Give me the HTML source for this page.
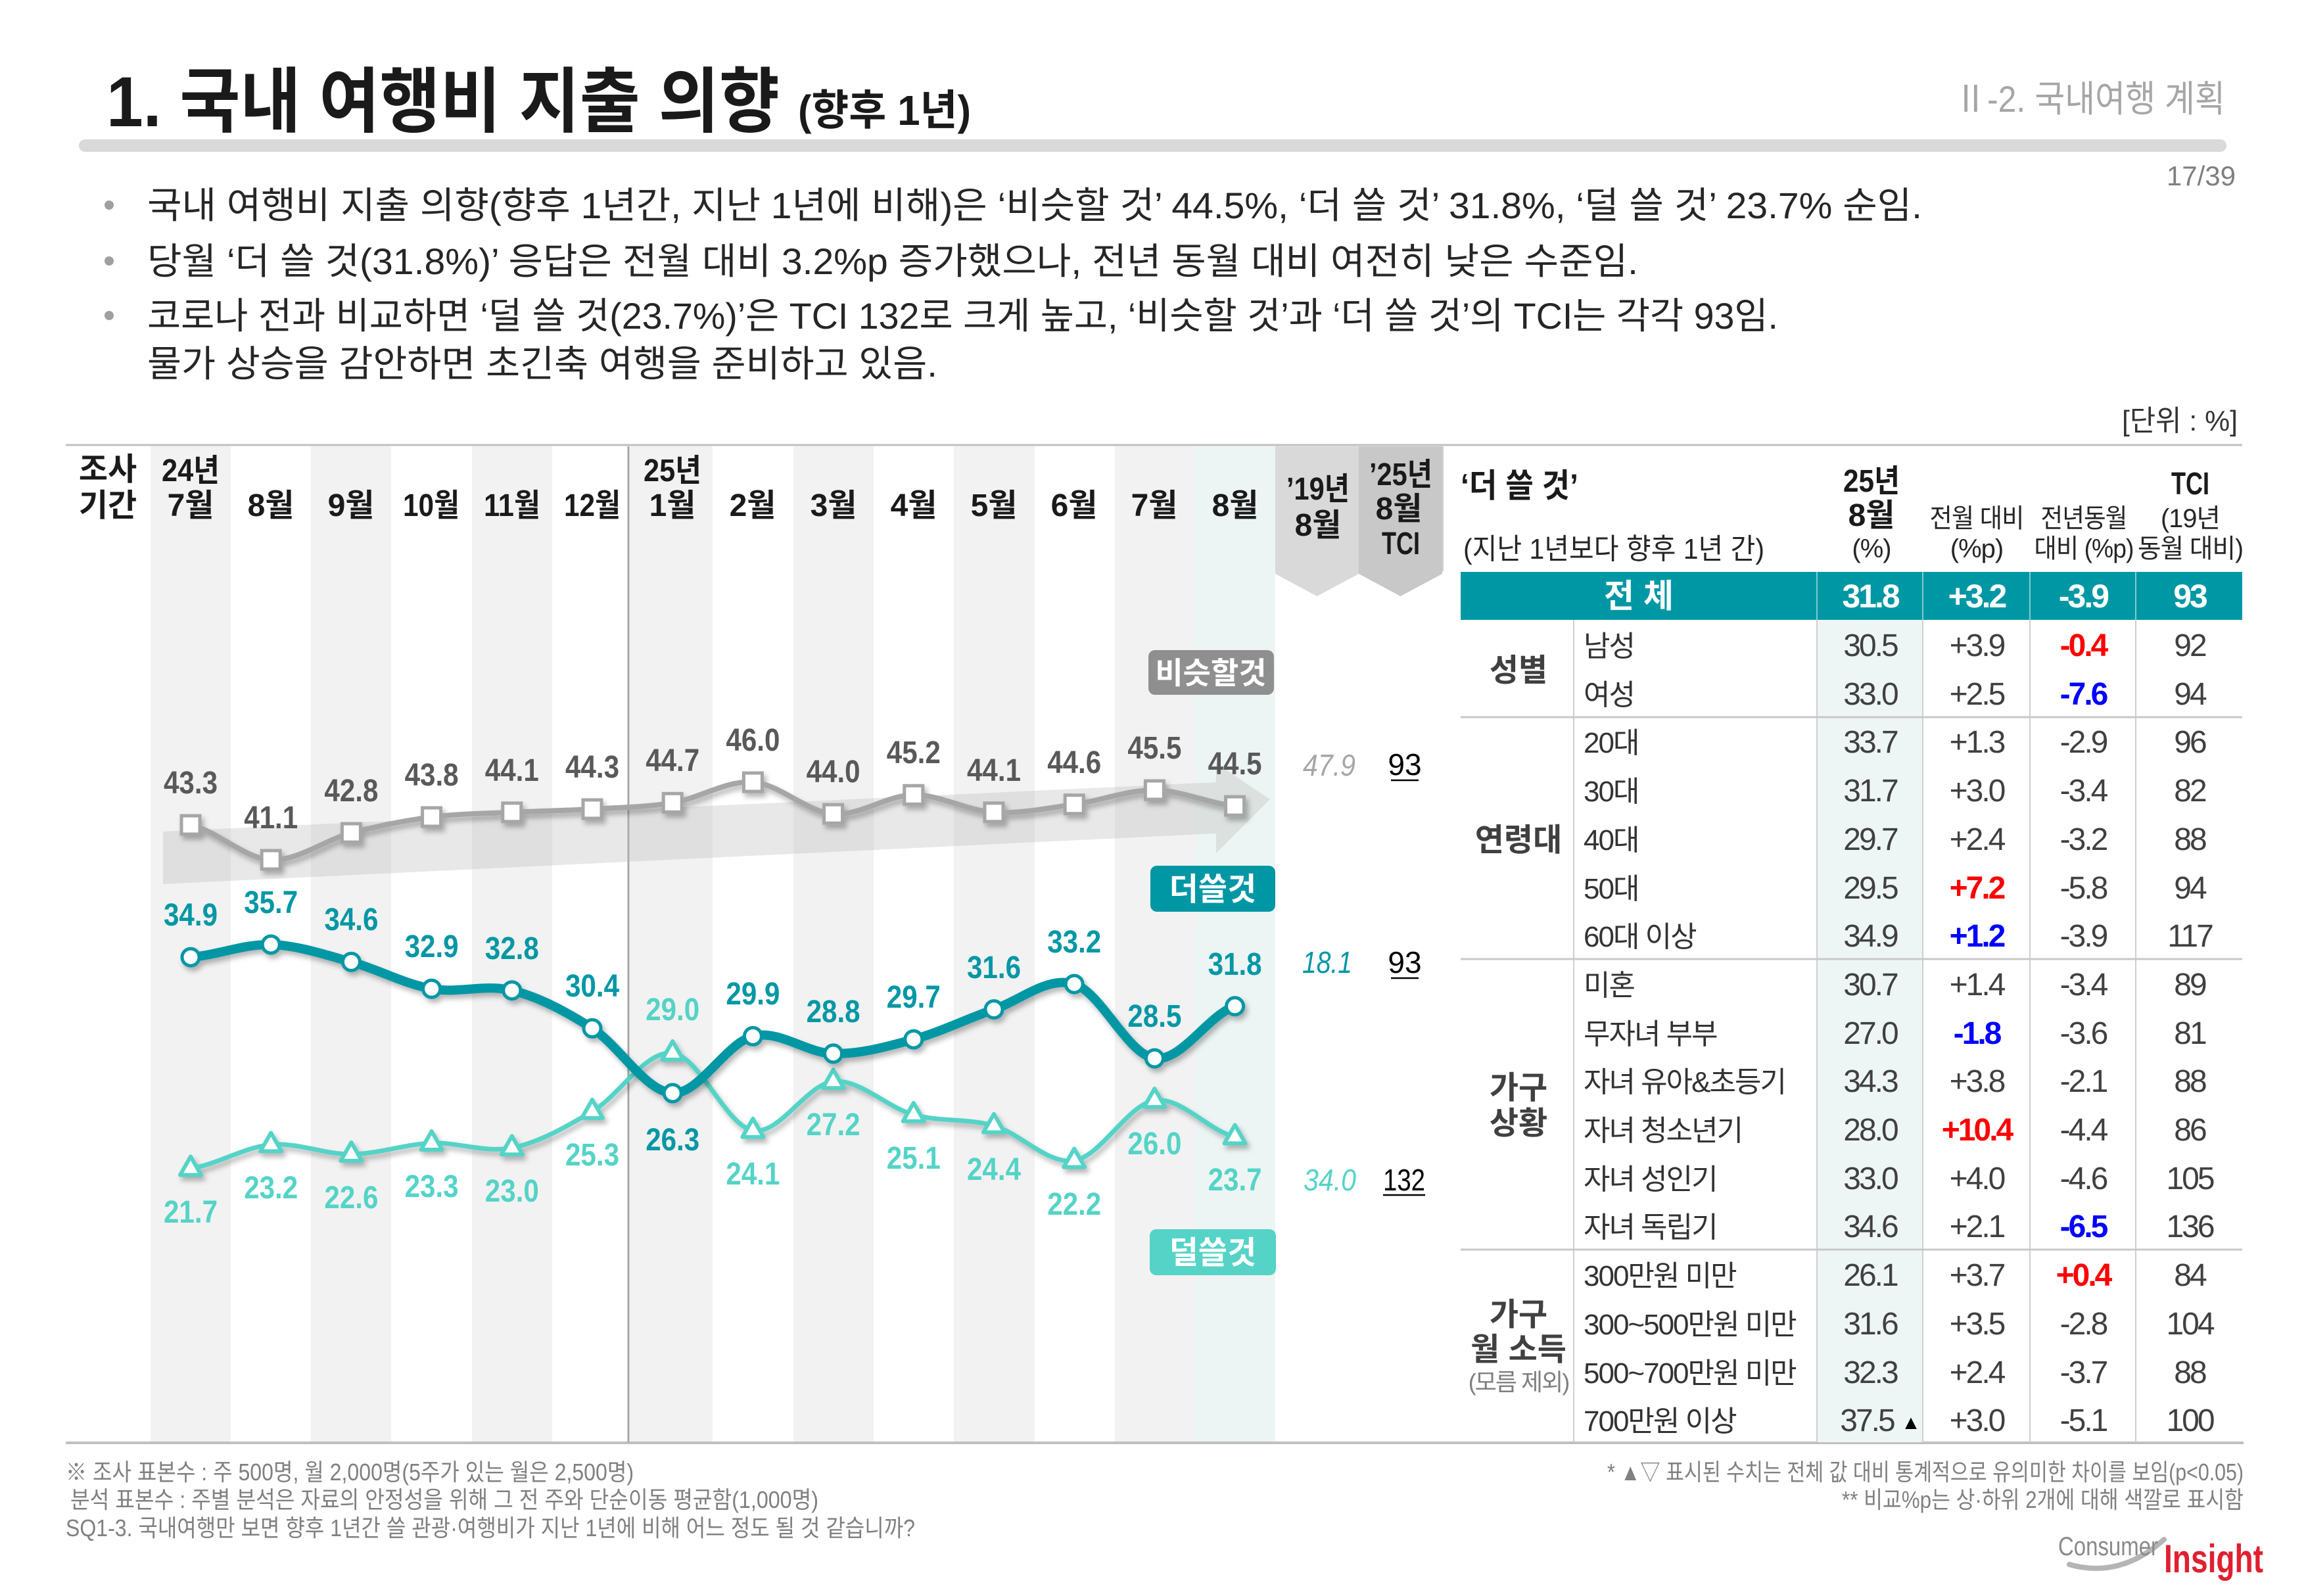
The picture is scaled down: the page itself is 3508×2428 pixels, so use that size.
<!DOCTYPE html>
<html lang="ko">
<head>
<meta charset="utf-8">
<style>
  html,body{margin:0;padding:0;background:#fff;}
  body{width:3508px;height:2428px;overflow:hidden;}
  svg{display:block;}
  text{font-family:"Liberation Sans","Noto Sans CJK KR",sans-serif;}
  .b{font-weight:bold;}
  .hd{font-size:48px;font-weight:bold;fill:#1a1a1a;text-anchor:middle;}
  .gl{font-size:48px;font-weight:bold;fill:#595959;text-anchor:middle;}
  .tl{font-size:48px;font-weight:bold;fill:#0097a5;text-anchor:middle;}
  .ll{font-size:48px;font-weight:bold;fill:#55d3c7;text-anchor:middle;}
  .tv{font-size:48px;fill:#404040;text-anchor:middle;letter-spacing:-3px;}
  .tr{font-size:48px;fill:#ff0000;font-weight:bold;text-anchor:middle;letter-spacing:-3px;}
  .tb{font-size:48px;fill:#0000ff;font-weight:bold;text-anchor:middle;letter-spacing:-3px;}
  .sl{font-size:44px;fill:#333;letter-spacing:-2px;}
  .gp{font-size:48px;font-weight:bold;fill:#404040;text-anchor:middle;}
  .th{font-size:40px;fill:#262626;text-anchor:middle;letter-spacing:-1px;}
  .ft{font-size:36px;fill:#808080;}
</style>
</head>
<body>
<svg width="3508" height="2428" viewBox="0 0 3508 2428" xmlns="http://www.w3.org/2000/svg">
  <defs>
    <filter id="sh" x="-5%" y="-20%" width="110%" height="140%">
      <feDropShadow dx="4" dy="6" stdDeviation="4" flood-color="#000" flood-opacity="0.28"/>
    </filter>
  </defs>

  <!-- Title -->
  <text x="162" y="192" font-size="108" font-weight="bold" fill="#1a1a1a" textLength="1024" lengthAdjust="spacingAndGlyphs">1. 국내 여행비 지출 의향</text>
  <text x="1214" y="190" font-size="64" font-weight="bold" fill="#1a1a1a" textLength="263" lengthAdjust="spacingAndGlyphs">(향후 1년)</text>
  <text x="2973" y="170" font-size="56" fill="#a6a6a6" textLength="412" lengthAdjust="spacingAndGlyphs">Ⅱ-2. 국내여행 계획</text>
  <rect x="120" y="212" width="3267" height="19" rx="9.5" fill="#d9d9d9"/>
  <text x="3401" y="282" font-size="42" fill="#7f7f7f" text-anchor="end">17/39</text>

  <!-- Bullets -->
  <circle cx="166" cy="312" r="7" fill="#a0a0a0"/>
  <circle cx="166" cy="397" r="7" fill="#a0a0a0"/>
  <circle cx="166" cy="480" r="7" fill="#a0a0a0"/>
  <text x="224" y="332" font-size="56" fill="#262626" textLength="2700" lengthAdjust="spacingAndGlyphs">국내 여행비 지출 의향(향후 1년간, 지난 1년에 비해)은 ‘비슷할 것’ 44.5%, ‘더 쓸 것’ 31.8%, ‘덜 쓸 것’ 23.7% 순임.</text>
  <text x="224" y="417" font-size="56" fill="#262626" textLength="2268" lengthAdjust="spacingAndGlyphs">당월 ‘더 쓸 것(31.8%)’ 응답은 전월 대비 3.2%p 증가했으나, 전년 동월 대비 여전히 낮은 수준임.</text>
  <text x="224" y="500" font-size="56" fill="#262626" textLength="2481" lengthAdjust="spacingAndGlyphs">코로나 전과 비교하면 ‘덜 쓸 것(23.7%)’은 TCI 132로 크게 높고, ‘비슷할 것’과 ‘더 쓸 것’의 TCI는 각각 93임.</text>
  <text x="224" y="573" font-size="56" fill="#262626" textLength="1202" lengthAdjust="spacingAndGlyphs">물가 상승을 감안하면 초긴축 여행을 준비하고 있음.</text>

  <text x="3228" y="655" font-size="44" fill="#333" textLength="176" lengthAdjust="spacingAndGlyphs">[단위 : %]</text>

  <!-- Chart stripes -->
  <g fill="#f2f2f2">
    <rect x="229" y="679" width="122" height="1515"/>
    <rect x="473" y="679" width="122" height="1515"/>
    <rect x="718" y="679" width="122" height="1515"/>
    <rect x="958" y="679" width="126" height="1515"/>
    <rect x="1207" y="679" width="122" height="1515"/>
    <rect x="1451" y="679" width="123" height="1515"/>
    <rect x="1696" y="679" width="122" height="1515"/>
  </g>
  <rect x="1818" y="679" width="122" height="1515" fill="#edf5f4"/>

  <!-- '19 and '25 header -->
  <polygon points="1940,679 2067,679 2067,873 2003.5,907 1940,873" fill="#d9d9d9"/>
  <polygon points="2067,679 2194,679 2194,873 2130.5,907 2067,873" fill="#c8c8c8"/>

  <!-- lines -->
  <line x1="100" y1="677" x2="3411" y2="677" stroke="#bfbfbf" stroke-width="3"/>
  <line x1="100" y1="2195" x2="3413" y2="2195" stroke="#bfbfbf" stroke-width="4"/>
  <line x1="956" y1="679" x2="956" y2="2194" stroke="#a6a6a6" stroke-width="3"/>
  <line x1="2195" y1="679" x2="2195" y2="869" stroke="#d0d0d0" stroke-width="2"/>

  <!-- Header labels -->
  <text class="hd" x="164" y="730">조사</text>
  <text class="hd" x="164" y="785">기간</text>
  <text class="hd" x="290" y="732" textLength="88" lengthAdjust="spacingAndGlyphs">24년</text>
  <text class="hd" x="290" y="785">7월</text>
  <text class="hd" x="412" y="785">8월</text>
  <text class="hd" x="534" y="785">9월</text>
  <text class="hd" x="656" y="785" textLength="86" lengthAdjust="spacingAndGlyphs">10월</text>
  <text class="hd" x="779" y="785" textLength="86" lengthAdjust="spacingAndGlyphs">11월</text>
  <text class="hd" x="901" y="785" textLength="86" lengthAdjust="spacingAndGlyphs">12월</text>
  <text class="hd" x="1023" y="732" textLength="88" lengthAdjust="spacingAndGlyphs">25년</text>
  <text class="hd" x="1023" y="785">1월</text>
  <text class="hd" x="1145" y="785">2월</text>
  <text class="hd" x="1268" y="785">3월</text>
  <text class="hd" x="1390" y="785">4월</text>
  <text class="hd" x="1512" y="785">5월</text>
  <text class="hd" x="1634" y="785">6월</text>
  <text class="hd" x="1756" y="785">7월</text>
  <text class="hd" x="1879" y="785">8월</text>
  <text class="hd" x="2005" y="760" font-size="46" textLength="96" lengthAdjust="spacingAndGlyphs">’19년</text>
  <text class="hd" x="2005" y="815" font-size="46">8월</text>
  <text class="hd" x="2131" y="738" font-size="46" textLength="96" lengthAdjust="spacingAndGlyphs">’25년</text>
  <text class="hd" x="2128" y="790" font-size="46">8월</text>
  <text class="hd" x="2131" y="843" font-size="46" textLength="58" lengthAdjust="spacingAndGlyphs">TCI</text>

  <!-- Gray arrow -->
  <polygon points="248,1265 1850,1190 1850,1161 1932,1216 1850,1298 1850,1268 248,1345" fill="#b8b8b8" fill-opacity="0.32"/>

  <!-- Legend tags -->
  <rect x="1747" y="989" width="191" height="68" rx="10" fill="#8f8f8f"/>
  <text x="1842" y="1040" font-size="46" font-weight="bold" fill="#fff" text-anchor="middle">비슷할것</text>
  <rect x="1750" y="1317" width="190" height="70" rx="10" fill="#0097a5"/>
  <text x="1845" y="1369" font-size="48" font-weight="bold" fill="#fff" text-anchor="middle">더쓸것</text>
  <rect x="1749" y="1870" width="192" height="70" rx="10" fill="#55d3c7"/>
  <text x="1845" y="1922" font-size="48" font-weight="bold" fill="#fff" text-anchor="middle">덜쓸것</text>

  <!-- Gray series -->
  <g filter="url(#sh)">
    <path fill="none" stroke="#a6a6a6" stroke-width="8" d="M290,1255 C330.7,1263.8 371.5,1306.0 412.2,1308.0 C452.9,1310.0 493.7,1277.9 534.4,1267.1 C575.1,1256.3 615.9,1248.2 656.6,1243.0 C697.3,1237.8 738.1,1237.8 778.8,1235.8 C819.5,1233.8 860.3,1233.3 901,1230.9 C941.7,1228.5 982.5,1228.1 1023.2,1221.3 C1063.9,1214.5 1104.7,1187.2 1145.4,1190 C1186.1,1192.8 1226.9,1235.0 1267.6,1238.2 C1308.3,1241.4 1349.1,1209.7 1389.8,1209.3 C1430.5,1208.9 1471.3,1233.4 1512,1235.8 C1552.7,1238.2 1593.5,1229.3 1634.2,1223.7 C1674.9,1218.1 1715.7,1201.6 1756.4,1202.0 C1797.1,1202.4 1837.9,1222.1 1878.6,1226.1"/>
    <g fill="#fff" stroke="#a6a6a6" stroke-width="5">
      <rect x="276" y="1241" width="28" height="28"/>
      <rect x="398.2" y="1294" width="28" height="28"/>
      <rect x="520.4" y="1253.1" width="28" height="28"/>
      <rect x="642.6" y="1229" width="28" height="28"/>
      <rect x="764.8" y="1221.8" width="28" height="28"/>
      <rect x="887" y="1216.9" width="28" height="28"/>
      <rect x="1009.2" y="1207.3" width="28" height="28"/>
      <rect x="1131.4" y="1176" width="28" height="28"/>
      <rect x="1253.6" y="1224.2" width="28" height="28"/>
      <rect x="1375.8" y="1195.3" width="28" height="28"/>
      <rect x="1498" y="1221.8" width="28" height="28"/>
      <rect x="1620.2" y="1209.7" width="28" height="28"/>
      <rect x="1742.4" y="1188" width="28" height="28"/>
      <rect x="1864.6" y="1212.1" width="28" height="28"/>
    </g>
  </g>

  <!-- Light teal series -->
  <g filter="url(#sh)">
    <path fill="none" stroke="#55d3c7" stroke-width="7" d="M290,1777.5 C330.7,1771.5 371.5,1745.0 412.2,1741.4 C452.9,1737.8 493.7,1756.3 534.4,1755.9 C575.1,1755.5 615.9,1740.6 656.6,1739.0 C697.3,1737.4 738.1,1754.2 778.8,1746.2 C819.5,1738.2 860.3,1714.9 901,1690.9 C941.7,1666.9 982.5,1597.2 1023.2,1602 C1063.9,1606.8 1104.7,1712.6 1145.4,1719.8 C1186.1,1727.0 1226.9,1649.3 1267.6,1645.3 C1308.3,1641.3 1349.1,1684.6 1389.8,1695.8 C1430.5,1707.0 1471.3,1701.0 1512,1712.6 C1552.7,1724.2 1593.5,1771.9 1634.2,1765.5 C1674.9,1759.1 1715.7,1680.1 1756.4,1674.1 C1797.1,1668.1 1837.9,1720.2 1878.6,1729.4"/>
    <g fill="#fff" stroke="#55d3c7" stroke-width="6" stroke-linejoin="round">
      <polygon points="290,1759.5 274,1787.5 306,1787.5"/>
      <polygon points="412.2,1723.4 396.2,1751.4 428.2,1751.4"/>
      <polygon points="534.4,1737.9 518.4,1765.9 550.4,1765.9"/>
      <polygon points="656.6,1721 640.6,1749 672.6,1749"/>
      <polygon points="778.8,1728.2 762.8,1756.2 794.8,1756.2"/>
      <polygon points="901,1672.9 885,1700.9 917,1700.9"/>
      <polygon points="1023.2,1584 1007.2,1612 1039.2,1612"/>
      <polygon points="1145.4,1701.8 1129.4,1729.8 1161.4,1729.8"/>
      <polygon points="1267.6,1627.3 1251.6,1655.3 1283.6,1655.3"/>
      <polygon points="1389.8,1677.8 1373.8,1705.8 1405.8,1705.8"/>
      <polygon points="1512,1694.6 1496,1722.6 1528,1722.6"/>
      <polygon points="1634.2,1747.5 1618.2,1775.5 1650.2,1775.5"/>
      <polygon points="1756.4,1656.1 1740.4,1684.1 1772.4,1684.1"/>
      <polygon points="1878.6,1711.4 1862.6,1739.4 1894.6,1739.4"/>
    </g>
  </g>

  <!-- Dark teal series -->
  <g filter="url(#sh)">
    <path fill="none" stroke="#0097a5" stroke-width="14" stroke-linecap="round" d="M290,1456.2 C330.7,1453.0 371.5,1435.8 412.2,1437 C452.9,1438.2 493.7,1452.2 534.4,1463.4 C575.1,1474.6 615.9,1497.1 656.6,1504.3 C697.3,1511.5 738.1,1496.7 778.8,1506.7 C819.5,1516.7 860.3,1538.4 901,1564.4 C941.7,1590.5 982.5,1661.0 1023.2,1663.0 C1063.9,1665.0 1104.7,1586.4 1145.4,1576.4 C1186.1,1566.4 1226.9,1602.1 1267.6,1602.9 C1308.3,1603.7 1349.1,1592.4 1389.8,1581.2 C1430.5,1570.0 1471.3,1549.6 1512,1535.6 C1552.7,1521.6 1593.5,1484.7 1634.2,1497.1 C1674.9,1509.5 1715.7,1604.5 1756.4,1610.1 C1797.1,1615.7 1837.9,1544.0 1878.6,1530.8"/>
    <g fill="#fff" stroke="#0097a5" stroke-width="5">
      <circle cx="290" cy="1456.2" r="13"/>
      <circle cx="412.2" cy="1437" r="13"/>
      <circle cx="534.4" cy="1463.4" r="13"/>
      <circle cx="656.6" cy="1504.3" r="13"/>
      <circle cx="778.8" cy="1506.7" r="13"/>
      <circle cx="901" cy="1564.4" r="13"/>
      <circle cx="1023.2" cy="1663" r="13"/>
      <circle cx="1145.4" cy="1576.4" r="13"/>
      <circle cx="1267.6" cy="1602.9" r="13"/>
      <circle cx="1389.8" cy="1581.2" r="13"/>
      <circle cx="1512" cy="1535.6" r="13"/>
      <circle cx="1634.2" cy="1497.1" r="13"/>
      <circle cx="1756.4" cy="1610.1" r="13"/>
      <circle cx="1878.6" cy="1530.8" r="13"/>
    </g>
  </g>

  <!-- Gray labels -->
  <g class="gl">
    <text x="290" y="1207" textLength="82" lengthAdjust="spacingAndGlyphs">43.3</text>
    <text x="412.2" y="1260" textLength="82" lengthAdjust="spacingAndGlyphs">41.1</text>
    <text x="534.4" y="1219" textLength="82" lengthAdjust="spacingAndGlyphs">42.8</text>
    <text x="656.6" y="1195" textLength="82" lengthAdjust="spacingAndGlyphs">43.8</text>
    <text x="778.8" y="1188" textLength="82" lengthAdjust="spacingAndGlyphs">44.1</text>
    <text x="901" y="1183" textLength="82" lengthAdjust="spacingAndGlyphs">44.3</text>
    <text x="1023.2" y="1173" textLength="82" lengthAdjust="spacingAndGlyphs">44.7</text>
    <text x="1145.4" y="1142" textLength="82" lengthAdjust="spacingAndGlyphs">46.0</text>
    <text x="1267.6" y="1190" textLength="82" lengthAdjust="spacingAndGlyphs">44.0</text>
    <text x="1389.8" y="1161" textLength="82" lengthAdjust="spacingAndGlyphs">45.2</text>
    <text x="1512" y="1188" textLength="82" lengthAdjust="spacingAndGlyphs">44.1</text>
    <text x="1634.2" y="1176" textLength="82" lengthAdjust="spacingAndGlyphs">44.6</text>
    <text x="1756.4" y="1154" textLength="82" lengthAdjust="spacingAndGlyphs">45.5</text>
    <text x="1878.6" y="1178" textLength="82" lengthAdjust="spacingAndGlyphs">44.5</text>
  </g>

  <!-- Dark teal labels -->
  <g class="tl">
    <text x="290" y="1408" textLength="82" lengthAdjust="spacingAndGlyphs">34.9</text>
    <text x="412.2" y="1389" textLength="82" lengthAdjust="spacingAndGlyphs">35.7</text>
    <text x="534.4" y="1415" textLength="82" lengthAdjust="spacingAndGlyphs">34.6</text>
    <text x="656.6" y="1456" textLength="82" lengthAdjust="spacingAndGlyphs">32.9</text>
    <text x="778.8" y="1459" textLength="82" lengthAdjust="spacingAndGlyphs">32.8</text>
    <text x="901" y="1516" textLength="82" lengthAdjust="spacingAndGlyphs">30.4</text>
    <text x="1023.2" y="1750" textLength="82" lengthAdjust="spacingAndGlyphs">26.3</text>
    <text x="1145.4" y="1528" textLength="82" lengthAdjust="spacingAndGlyphs">29.9</text>
    <text x="1267.6" y="1555" textLength="82" lengthAdjust="spacingAndGlyphs">28.8</text>
    <text x="1389.8" y="1533" textLength="82" lengthAdjust="spacingAndGlyphs">29.7</text>
    <text x="1512" y="1488" textLength="82" lengthAdjust="spacingAndGlyphs">31.6</text>
    <text x="1634.2" y="1449" textLength="82" lengthAdjust="spacingAndGlyphs">33.2</text>
    <text x="1756.4" y="1562" textLength="82" lengthAdjust="spacingAndGlyphs">28.5</text>
    <text x="1878.6" y="1483" textLength="82" lengthAdjust="spacingAndGlyphs">31.8</text>
  </g>

  <!-- Light teal labels -->
  <g class="ll">
    <text x="290" y="1860" textLength="82" lengthAdjust="spacingAndGlyphs">21.7</text>
    <text x="412.2" y="1823" textLength="82" lengthAdjust="spacingAndGlyphs">23.2</text>
    <text x="534.4" y="1838" textLength="82" lengthAdjust="spacingAndGlyphs">22.6</text>
    <text x="656.6" y="1821" textLength="82" lengthAdjust="spacingAndGlyphs">23.3</text>
    <text x="778.8" y="1828" textLength="82" lengthAdjust="spacingAndGlyphs">23.0</text>
    <text x="901" y="1773" textLength="82" lengthAdjust="spacingAndGlyphs">25.3</text>
    <text x="1023.2" y="1552" textLength="82" lengthAdjust="spacingAndGlyphs">29.0</text>
    <text x="1145.4" y="1802" textLength="82" lengthAdjust="spacingAndGlyphs">24.1</text>
    <text x="1267.6" y="1727" textLength="82" lengthAdjust="spacingAndGlyphs">27.2</text>
    <text x="1389.8" y="1778" textLength="82" lengthAdjust="spacingAndGlyphs">25.1</text>
    <text x="1512" y="1795" textLength="82" lengthAdjust="spacingAndGlyphs">24.4</text>
    <text x="1634.2" y="1848" textLength="82" lengthAdjust="spacingAndGlyphs">22.2</text>
    <text x="1756.4" y="1756" textLength="82" lengthAdjust="spacingAndGlyphs">26.0</text>
    <text x="1878.6" y="1811" textLength="82" lengthAdjust="spacingAndGlyphs">23.7</text>
  </g>

  <!-- '19 values & TCI -->
  <text x="2022" y="1180" font-size="46" font-style="italic" fill="#a6a6a6" text-anchor="middle" textLength="80" lengthAdjust="spacingAndGlyphs">47.9</text>
  <text x="2137" y="1179" font-size="46" fill="#000" text-anchor="middle">93</text>
  <line x1="2116" y1="1187" x2="2158" y2="1187" stroke="#000" stroke-width="2.5"/>
  <text x="2019" y="1480" font-size="46" font-style="italic" fill="#0097a5" text-anchor="middle" textLength="76" lengthAdjust="spacingAndGlyphs">18.1</text>
  <text x="2137" y="1480" font-size="46" fill="#000" text-anchor="middle">93</text>
  <line x1="2116" y1="1488" x2="2158" y2="1488" stroke="#000" stroke-width="2.5"/>
  <text x="2023" y="1811" font-size="46" font-style="italic" fill="#55d3c7" text-anchor="middle" textLength="80" lengthAdjust="spacingAndGlyphs">34.0</text>
  <text x="2136" y="1811" font-size="46" fill="#000" text-anchor="middle" textLength="64" lengthAdjust="spacingAndGlyphs">132</text>
  <line x1="2104" y1="1818" x2="2168" y2="1818" stroke="#000" stroke-width="2.5"/>

  <!-- TABLE -->
  <text x="2222" y="756" font-size="50" font-weight="bold" fill="#1a1a1a" textLength="179" lengthAdjust="spacingAndGlyphs">‘더 쓸 것’</text>
  <text x="2226" y="850" font-size="44" fill="#262626" textLength="458" lengthAdjust="spacingAndGlyphs">(지난 1년보다 향후 1년 간)</text>
  <text class="hd" x="2847" y="748" font-size="46" textLength="86" lengthAdjust="spacingAndGlyphs">25년</text>
  <text class="hd" x="2847" y="800" font-size="46">8월</text>
  <text class="th" x="2847" y="848">(%)</text>
  <text class="th" x="3007" y="802" textLength="143" lengthAdjust="spacingAndGlyphs">전월 대비</text>
  <text class="th" x="3007" y="848">(%p)</text>
  <text class="th" x="3170" y="802" textLength="131" lengthAdjust="spacingAndGlyphs">전년동월</text>
  <text class="th" x="3170" y="848" textLength="151" lengthAdjust="spacingAndGlyphs">대비 (%p)</text>
  <text class="hd" x="3332" y="752" font-size="46" textLength="58" lengthAdjust="spacingAndGlyphs">TCI</text>
  <text class="th" x="3332" y="802" textLength="90" lengthAdjust="spacingAndGlyphs">(19년</text>
  <text class="th" x="3332" y="848" textLength="160" lengthAdjust="spacingAndGlyphs">동월 대비)</text>

  <!-- total row -->
  <rect x="2222" y="870" width="1189" height="73" fill="#0097a5"/>
  <g stroke="#7fcad1" stroke-width="2">
    <line x1="2764" y1="870" x2="2764" y2="943"/>
    <line x1="2925" y1="870" x2="2925" y2="943"/>
    <line x1="3088" y1="870" x2="3088" y2="943"/>
    <line x1="3249" y1="870" x2="3249" y2="943"/>
  </g>
  <g font-size="50" font-weight="bold" fill="#fff" text-anchor="middle">
    <text x="2493" y="924">전  체</text>
    <text x="2845" y="924" letter-spacing="-3">31.8</text>
    <text x="3007" y="924" letter-spacing="-3">+3.2</text>
    <text x="3169" y="924" letter-spacing="-3">-3.9</text>
    <text x="3331" y="924" letter-spacing="-3">93</text>
  </g>

  <!-- col1 tint -->
  <rect x="2764" y="943" width="161" height="1251" fill="#eef6f5"/>

  <!-- grid -->
  <g stroke="#cfcfcf" stroke-width="2">
    <line x1="2394" y1="943" x2="2394" y2="2194"/>
    <line x1="2764" y1="943" x2="2764" y2="2194"/>
    <line x1="2925" y1="943" x2="2925" y2="2194"/>
    <line x1="3088" y1="943" x2="3088" y2="2194"/>
    <line x1="3249" y1="943" x2="3249" y2="2194"/>
  </g>
  <g stroke="#c8c8c8" stroke-width="3">
    <line x1="2222" y1="1091" x2="3411" y2="1091"/>
    <line x1="2222" y1="1459" x2="3411" y2="1459"/>
    <line x1="2222" y1="1901" x2="3411" y2="1901"/>
  </g>

  <!-- group labels -->
  <text class="gp" x="2310" y="1036">성별</text>
  <text class="gp" x="2310" y="1294">연령대</text>
  <text class="gp" x="2310" y="1671">가구</text>
  <text class="gp" x="2310" y="1725">상황</text>
  <text class="gp" x="2310" y="2016">가구</text>
  <text class="gp" x="2310" y="2069">월 소득</text>
  <text x="2310" y="2115" font-size="36" fill="#7f7f7f" text-anchor="middle" letter-spacing="-2">(모름 제외)</text>

  <!-- sub labels -->
  <g class="sl">
    <text x="2409" y="998">남성</text>
    <text x="2409" y="1072">여성</text>
    <text x="2409" y="1145">20대</text>
    <text x="2409" y="1219">30대</text>
    <text x="2409" y="1293">40대</text>
    <text x="2409" y="1367">50대</text>
    <text x="2409" y="1440">60대 이상</text>
    <text x="2409" y="1514">미혼</text>
    <text x="2409" y="1588">무자녀 부부</text>
    <text x="2409" y="1661">자녀 유아&amp;초등기</text>
    <text x="2409" y="1735">자녀 청소년기</text>
    <text x="2409" y="1809">자녀 성인기</text>
    <text x="2409" y="1882">자녀 독립기</text>
    <text x="2409" y="1956">300만원 미만</text>
    <text x="2409" y="2030">300~500만원 미만</text>
    <text x="2409" y="2104">500~700만원 미만</text>
    <text x="2409" y="2177">700만원 이상</text>
  </g>

  <!-- values -->
  <g>
    <text class="tv" x="2845" y="998">30.5</text><text class="tv" x="3007" y="998">+3.9</text><text class="tr" x="3169" y="998">-0.4</text><text class="tv" x="3331" y="998">92</text>
    <text class="tv" x="2845" y="1072">33.0</text><text class="tv" x="3007" y="1072">+2.5</text><text class="tb" x="3169" y="1072">-7.6</text><text class="tv" x="3331" y="1072">94</text>
    <text class="tv" x="2845" y="1145">33.7</text><text class="tv" x="3007" y="1145">+1.3</text><text class="tv" x="3169" y="1145">-2.9</text><text class="tv" x="3331" y="1145">96</text>
    <text class="tv" x="2845" y="1219">31.7</text><text class="tv" x="3007" y="1219">+3.0</text><text class="tv" x="3169" y="1219">-3.4</text><text class="tv" x="3331" y="1219">82</text>
    <text class="tv" x="2845" y="1293">29.7</text><text class="tv" x="3007" y="1293">+2.4</text><text class="tv" x="3169" y="1293">-3.2</text><text class="tv" x="3331" y="1293">88</text>
    <text class="tv" x="2845" y="1367">29.5</text><text class="tr" x="3007" y="1367">+7.2</text><text class="tv" x="3169" y="1367">-5.8</text><text class="tv" x="3331" y="1367">94</text>
    <text class="tv" x="2845" y="1440">34.9</text><text class="tb" x="3007" y="1440">+1.2</text><text class="tv" x="3169" y="1440">-3.9</text><text class="tv" x="3331" y="1440">117</text>
    <text class="tv" x="2845" y="1514">30.7</text><text class="tv" x="3007" y="1514">+1.4</text><text class="tv" x="3169" y="1514">-3.4</text><text class="tv" x="3331" y="1514">89</text>
    <text class="tv" x="2845" y="1588">27.0</text><text class="tb" x="3007" y="1588">-1.8</text><text class="tv" x="3169" y="1588">-3.6</text><text class="tv" x="3331" y="1588">81</text>
    <text class="tv" x="2845" y="1661">34.3</text><text class="tv" x="3007" y="1661">+3.8</text><text class="tv" x="3169" y="1661">-2.1</text><text class="tv" x="3331" y="1661">88</text>
    <text class="tv" x="2845" y="1735">28.0</text><text class="tr" x="3007" y="1735">+10.4</text><text class="tv" x="3169" y="1735">-4.4</text><text class="tv" x="3331" y="1735">86</text>
    <text class="tv" x="2845" y="1809">33.0</text><text class="tv" x="3007" y="1809">+4.0</text><text class="tv" x="3169" y="1809">-4.6</text><text class="tv" x="3331" y="1809">105</text>
    <text class="tv" x="2845" y="1882">34.6</text><text class="tv" x="3007" y="1882">+2.1</text><text class="tb" x="3169" y="1882">-6.5</text><text class="tv" x="3331" y="1882">136</text>
    <text class="tv" x="2845" y="1956">26.1</text><text class="tv" x="3007" y="1956">+3.7</text><text class="tr" x="3169" y="1956">+0.4</text><text class="tv" x="3331" y="1956">84</text>
    <text class="tv" x="2845" y="2030">31.6</text><text class="tv" x="3007" y="2030">+3.5</text><text class="tv" x="3169" y="2030">-2.8</text><text class="tv" x="3331" y="2030">104</text>
    <text class="tv" x="2845" y="2104">32.3</text><text class="tv" x="3007" y="2104">+2.4</text><text class="tv" x="3169" y="2104">-3.7</text><text class="tv" x="3331" y="2104">88</text>
    <text class="tv" x="2840" y="2177">37.5</text><text x="2907" y="2174" font-size="30" fill="#000" text-anchor="middle">▲</text><text class="tv" x="3007" y="2177">+3.0</text><text class="tv" x="3169" y="2177">-5.1</text><text class="tv" x="3331" y="2177">100</text>
  </g>

  <!-- Footer -->
  <text class="ft" x="100" y="2252" textLength="864" lengthAdjust="spacingAndGlyphs">※ 조사 표본수 : 주 500명, 월 2,000명(5주가 있는 월은 2,500명)</text>
  <text class="ft" x="107" y="2294" textLength="1138" lengthAdjust="spacingAndGlyphs">분석 표본수 : 주별 분석은 자료의 안정성을 위해 그 전 주와 단순이동 평균함(1,000명)</text>
  <text class="ft" x="100" y="2337" textLength="1292" lengthAdjust="spacingAndGlyphs">SQ1-3. 국내여행만 보면 향후 1년간 쓸 관광·여행비가 지난 1년에 비해 어느 정도 될 것 같습니까?</text>
  <text class="ft" x="2445" y="2252" textLength="968" lengthAdjust="spacingAndGlyphs">* ▲▽ 표시된 수치는 전체 값 대비 통계적으로 유의미한 차이를 보임(p&lt;0.05)</text>
  <text class="ft" x="2802" y="2294" textLength="611" lengthAdjust="spacingAndGlyphs">** 비교%p는 상·하위 2개에 대해 색깔로 표시함</text>

  <!-- Logo -->
  <path d="M3148,2380 Q3225,2402 3292,2342" fill="none" stroke="#b5b5b5" stroke-width="8" stroke-linecap="round"/>
  <text x="3131" y="2366" font-size="40" fill="#8a8a8a" textLength="152" lengthAdjust="spacingAndGlyphs">Consumer</text>
  <text x="3292" y="2392" font-size="60" font-weight="bold" fill="#e0202f" textLength="151" lengthAdjust="spacingAndGlyphs">Insight</text>
</svg>
</body>
</html>
